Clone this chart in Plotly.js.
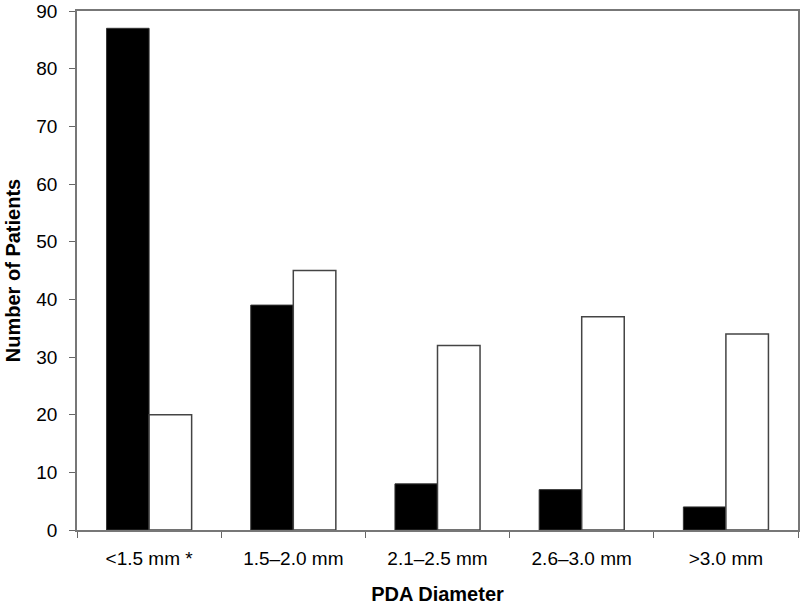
<!DOCTYPE html>
<html>
<head>
<meta charset="utf-8">
<script src="https://cdn.plot.ly/plotly-3.0.1.min.js"></script>
<style>body{margin:0;background:#fff}#chart{width:800px;height:605px}</style>
</head>
<body>
<div id="chart"></div>
<script>
var diameters = ['<1.5 mm *', '1.5–2.0 mm', '2.1–2.5 mm', '2.6–3.0 mm', '>3.0 mm'];
var blackCounts = [87, 39, 8, 7, 4];
var whiteCounts = [20, 45, 32, 37, 34];
var yTicks = [0, 10, 20, 30, 40, 50, 60, 70, 80, 90];

var barData = [
    { x: diameters, y: blackCounts, type: 'bar', name: 'Group A',
      marker: { color: '#000000', line: { color: '#333333', width: 1 } } },
    { x: diameters, y: whiteCounts, type: 'bar', name: 'Group B',
      marker: { color: '#ffffff', line: { color: '#444444', width: 1.5 } } }
];

var barLayout = {
    width: 800,
    height: 605,
    margin: { l: 77, r: 2, t: 11, b: 75 },
    barmode: 'group',
    bargap: 0.41,
    bargroupgap: 0,
    showlegend: false,
    paper_bgcolor: '#ffffff',
    plot_bgcolor: '#ffffff',
    font: { family: 'Liberation Sans, Arial, sans-serif', color: '#000000', size: 19 },
    xaxis: {
        title: { text: 'PDA Diameter', font: { size: 20, weight: 'bold' }, standoff: 20 },
        tickson: 'boundaries',
        ticks: 'outside',
        ticklen: 6,
        tickcolor: '#666666',
        ticklabelstandoff: 10,
        showline: true,
        linecolor: '#777777',
        linewidth: 1.5,
        mirror: true,
        showgrid: false,
        zeroline: false
    },
    yaxis: {
        title: { text: 'Number of Patients', font: { size: 20, weight: 'bold' }, standoff: 10 },
        range: [0, 90],
        tickvals: yTicks,
        ticks: 'outside',
        ticklen: 6,
        tickcolor: '#666666',
        ticklabelstandoff: 8,
        showline: true,
        linecolor: '#777777',
        linewidth: 1.5,
        mirror: true,
        showgrid: false,
        zeroline: false
    }
};

Plotly.newPlot('chart', barData, barLayout, { displayModeBar: false });
</script>
</body>
</html>
